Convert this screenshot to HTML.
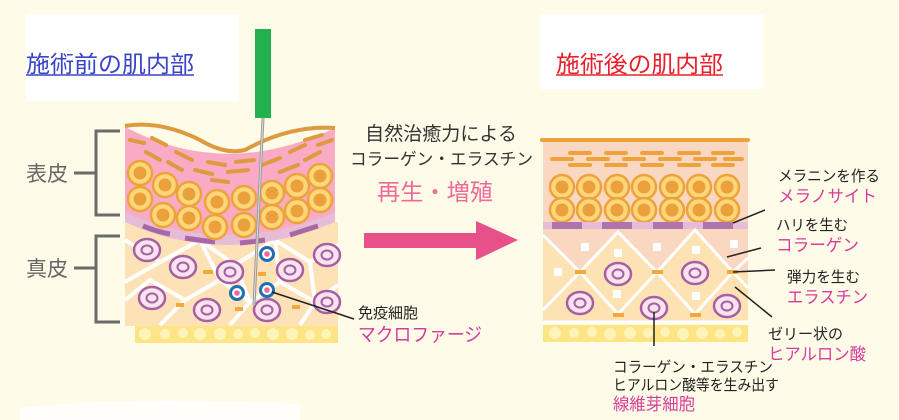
<!DOCTYPE html>
<html><head><meta charset="utf-8">
<style>
html,body{margin:0;padding:0;background:#fefbe8;}
svg{display:block}
text{font-family:"Liberation Sans","Noto Sans CJK JP",sans-serif;}
</style></head><body>
<svg width="899" height="420" viewBox="0 0 899 420" xmlns="http://www.w3.org/2000/svg">
<defs>
 <g id="ec"><circle r="12" fill="#fbd77a" stroke="#eea23c" stroke-width="2.5"/><circle r="6.5" fill="#eba03c"/></g>
 <g id="dc"><ellipse rx="13" ry="11" fill="#f9e4ee" stroke="#a65fa4" stroke-width="2.5"/><ellipse rx="5.5" ry="4.5" fill="none" stroke="#a65fa4" stroke-width="2"/></g>
 <g id="mc"><circle r="6.5" fill="#fff" stroke="#1f6fb5" stroke-width="3"/><circle r="2.8" fill="#e76aa4"/></g>
</defs>
<rect width="899" height="420" fill="#fefbe8"/>
<rect x="26" y="14" width="213" height="87" fill="#fff"/>
<rect x="540" y="14" width="223" height="75" fill="#fff"/>
<path d="M20 408 Q120 396 300 404 L300 420 L20 420Z" fill="#fff" opacity="0.8"/>
<text x="26" y="72" font-size="23" fill="#3a44c8" textLength="168" lengthAdjust="spacingAndGlyphs">施術前の肌内部</text>
<line x1="26" y1="75" x2="194" y2="75" stroke="#3a44c8" stroke-width="1.5"/>
<text x="556" y="72" font-size="23" fill="#e8202a" textLength="167" lengthAdjust="spacingAndGlyphs">施術後の肌内部</text>
<line x1="556" y1="75" x2="723" y2="75" stroke="#e8202a" stroke-width="1.5"/>

<g stroke="#6b6b6b" stroke-width="3" fill="none">
 <path d="M120 131 H96 V215 H120"/><line x1="74" y1="173" x2="96" y2="173"/>
 <path d="M120 236 H96 V322 H120"/><line x1="74" y1="268" x2="96" y2="268"/>
</g>
<text x="26" y="181" font-size="21" fill="#666">表皮</text>
<text x="26" y="276" font-size="21" fill="#666">真皮</text>

<rect x="125" y="222" width="213" height="104" fill="#fde2b8"/>
<g stroke="#fff" stroke-width="4" fill="none">
 <path d="M125 240 L160 262 L125 282"/><path d="M160 262 L200 240 L235 265 L275 240 L310 262 L338 245"/>
 <path d="M125 300 L150 280 L185 300 L160 325"/><path d="M185 300 L220 280 L250 302 L280 282 L315 302 L338 285"/>
 <path d="M200 240 L220 280"/><path d="M275 240 L280 282"/><path d="M235 265 L250 302 L230 325"/><path d="M310 262 L315 302 L300 325"/>
</g>
<path d="M125 127 Q225 180 335 128 L335 218 Q225 265 125 218Z" fill="#f9aac4"/>
<path d="M125 212 Q225 258 335 212 L335 222 Q225 268 125 222Z" fill="#e6bcd6"/>
<g stroke="#a967a8" stroke-width="5" fill="none">
 <path d="M143 226 Q158 232 170 234"/><path d="M185 238 Q198 240 215 242"/><path d="M240 243 Q252 242 265 240"/><path d="M290 235 Q305 230 318 226"/>
</g>
<path d="M125 126 Q160 120 200 140 Q225 155 245 150 Q290 125 335 128" fill="none" stroke="#dd9a3e" stroke-width="4"/>
<g stroke="#dd9a3e" stroke-width="4" stroke-linecap="round">
 <line x1="130" y1="140" x2="144" y2="143"/><line x1="152" y1="138" x2="166" y2="145"/><line x1="146" y1="152" x2="160" y2="160"/>
 <line x1="176" y1="152" x2="192" y2="160"/><line x1="168" y1="162" x2="182" y2="170"/><line x1="195" y1="170" x2="212" y2="174"/>
 <line x1="208" y1="162" x2="225" y2="165"/><line x1="228" y1="172" x2="248" y2="170"/><line x1="236" y1="162" x2="254" y2="160"/>
 <line x1="212" y1="180" x2="228" y2="182"/><line x1="262" y1="165" x2="280" y2="158"/><line x1="290" y1="152" x2="305" y2="145"/>
 <line x1="280" y1="172" x2="298" y2="165"/><line x1="305" y1="160" x2="320" y2="152"/><line x1="305" y1="140" x2="322" y2="135"/><line x1="318" y1="145" x2="332" y2="140"/>
</g>
<use href="#ec" x="140" y="173"/><use href="#ec" x="165" y="185"/><use href="#ec" x="189" y="194"/><use href="#ec" x="217" y="202"/>
<use href="#ec" x="244" y="198"/><use href="#ec" x="272" y="193"/><use href="#ec" x="297" y="186"/><use href="#ec" x="320" y="176"/>
<use href="#ec" x="140" y="199"/><use href="#ec" x="163" y="215"/><use href="#ec" x="189" y="218"/><use href="#ec" x="215" y="227"/>
<use href="#ec" x="244" y="225"/><use href="#ec" x="272" y="217"/><use href="#ec" x="297" y="211"/><use href="#ec" x="320" y="200"/>
<use href="#dc" x="147" y="250"/><use href="#dc" x="183" y="267"/><use href="#dc" x="230" y="272"/><use href="#dc" x="290" y="270"/><use href="#dc" x="327" y="255"/>
<use href="#dc" x="152" y="298"/><use href="#dc" x="207" y="310"/><use href="#dc" x="267" y="310"/><use href="#dc" x="327" y="302"/>
<g stroke="#f2a93a" stroke-width="4"><line x1="203" y1="272" x2="213" y2="272"/><line x1="258" y1="274" x2="266" y2="274"/><line x1="176" y1="305" x2="184" y2="305"/><line x1="235" y1="309" x2="243" y2="309"/><line x1="292" y1="307" x2="300" y2="307"/></g>
<rect x="135" y="326" width="203" height="17" fill="#fde485"/>
<g fill="#fef3b8"><circle cx="145" cy="334" r="6"/><circle cx="165" cy="334" r="5"/><circle cx="183" cy="333" r="5"/><circle cx="200" cy="334" r="6"/><circle cx="220" cy="334" r="6"/><circle cx="238" cy="334" r="5"/><circle cx="255" cy="333" r="5"/><circle cx="273" cy="334" r="6"/><circle cx="292" cy="334" r="6"/><circle cx="310" cy="335" r="5"/><circle cx="326" cy="334" r="5"/></g>
<line x1="263" y1="118" x2="254" y2="305" stroke="#9a9a9a" stroke-width="3"/>
<line x1="263" y1="118" x2="254" y2="305" stroke="#ddd" stroke-width="1"/>
<rect x="255" y="29" width="16" height="89" fill="#22b14c"/>
<use href="#mc" x="267" y="254"/><use href="#mc" x="237" y="293"/><use href="#mc" x="267" y="290"/>
<line x1="272" y1="292" x2="354" y2="319" stroke="#222" stroke-width="1.5"/>

<text x="365" y="140" font-size="19" fill="#333" textLength="152" lengthAdjust="spacingAndGlyphs">自然治癒力による</text>
<text x="350" y="165" font-size="17" fill="#333" textLength="183" lengthAdjust="spacingAndGlyphs">コラーゲン・エラスチン</text>
<text x="377" y="200" font-size="23" fill="#ee6a9a" textLength="116" lengthAdjust="spacingAndGlyphs">再生・増殖</text>
<path d="M364 233 H476 V221 L518 240 L476 260 V248 H364Z" fill="#e8508a"/>
<text x="358" y="318" font-size="15" fill="#222">免疫細胞</text>
<text x="358" y="341" font-size="19" fill="#d63c9a" textLength="124" lengthAdjust="spacingAndGlyphs">マクロファージ</text>

<rect x="543" y="140" width="205" height="85" fill="#f9d7c0"/>
<line x1="542" y1="140" x2="748" y2="140" stroke="#eea23c" stroke-width="4" stroke-linecap="round"/>
<g stroke="#eea23c" stroke-width="4" stroke-linecap="round">
 <line x1="570" y1="153" x2="590" y2="153"/><line x1="606" y1="153" x2="626" y2="153"/><line x1="642" y1="153" x2="662" y2="153"/><line x1="679" y1="153" x2="699" y2="153"/><line x1="713" y1="153" x2="733" y2="153"/>
 <line x1="552" y1="159" x2="572" y2="159"/><line x1="588" y1="159" x2="608" y2="159"/><line x1="624" y1="159" x2="644" y2="159"/><line x1="660" y1="159" x2="680" y2="159"/><line x1="695" y1="159" x2="715" y2="159"/><line x1="725" y1="159" x2="742" y2="159"/>
 <line x1="570" y1="165" x2="590" y2="165"/><line x1="606" y1="165" x2="626" y2="165"/><line x1="642" y1="165" x2="662" y2="165"/><line x1="679" y1="165" x2="699" y2="165"/><line x1="713" y1="165" x2="733" y2="165"/>
</g>
<use href="#ec" x="562" y="187"/><use href="#ec" x="589" y="187"/><use href="#ec" x="617" y="187"/><use href="#ec" x="644" y="187"/><use href="#ec" x="672" y="187"/><use href="#ec" x="699" y="187"/><use href="#ec" x="727" y="187"/>
<use href="#ec" x="562" y="210"/><use href="#ec" x="589" y="210"/><use href="#ec" x="617" y="210"/><use href="#ec" x="644" y="210"/><use href="#ec" x="672" y="210"/><use href="#ec" x="699" y="210"/><use href="#ec" x="727" y="210"/>
<rect x="543" y="222" width="205" height="7" fill="#e6bcd6"/>
<g fill="#b074ad"><rect x="552" y="222" width="30" height="7"/><rect x="602" y="222" width="30" height="7"/><rect x="653" y="222" width="30" height="7"/><rect x="703" y="222" width="30" height="7"/></g>
<rect x="543" y="229" width="205" height="94" fill="#fde2b4"/>
<path d="M543 229 H748 V272 L733 272 L695 230 L657 272 L618 232 L580 272 L543 235Z" fill="#f9d7c0"/>
<g stroke="#fff" stroke-width="3" fill="none">
 <path d="M543 235 L580 272 L618 232 L657 272 L695 230 L733 272 L748 258"/>
 <path d="M543 310 L580 272 L618 314 L657 272 L695 314 L733 272 L748 288"/>
 <line x1="543" y1="322" x2="748" y2="322"/>
</g>
<g fill="#fff"><rect x="581" y="243" width="8" height="8"/><rect x="614" y="249" width="8" height="8"/><rect x="653" y="243" width="8" height="8"/><rect x="692" y="246" width="8" height="8"/><rect x="730" y="240" width="8" height="8"/><rect x="554" y="268" width="8" height="8"/><rect x="613" y="290" width="8" height="8"/><rect x="692" y="292" width="8" height="8"/></g>
<use href="#dc" x="618" y="274"/><use href="#dc" x="695" y="273"/><use href="#dc" x="580" y="303"/><use href="#dc" x="654" y="308"/><use href="#dc" x="727" y="306"/>
<g stroke="#f2a93a" stroke-width="4"><line x1="575" y1="272" x2="586" y2="272"/><line x1="652" y1="272" x2="663" y2="272"/><line x1="727" y1="272" x2="738" y2="272"/><line x1="613" y1="315" x2="624" y2="315"/><line x1="690" y1="315" x2="701" y2="315"/></g>
<rect x="543" y="325" width="205" height="17" fill="#fde485"/>
<g fill="#fef3b8"><circle cx="555" cy="333" r="6"/><circle cx="574" cy="333" r="5"/><circle cx="592" cy="332" r="5"/><circle cx="610" cy="334" r="6"/><circle cx="630" cy="333" r="6"/><circle cx="648" cy="333" r="5"/><circle cx="665" cy="332" r="5"/><circle cx="683" cy="334" r="6"/><circle cx="702" cy="333" r="6"/><circle cx="720" cy="334" r="5"/><circle cx="737" cy="332" r="5"/></g>
<g stroke="#222" stroke-width="1.5">
 <line x1="733" y1="223" x2="765" y2="210"/><line x1="727" y1="257" x2="761" y2="248"/><line x1="733" y1="272" x2="775" y2="270"/><line x1="735" y1="287" x2="772" y2="317"/><line x1="654" y1="312" x2="654" y2="346"/>
</g>
<text x="778" y="181" font-size="15" fill="#222" textLength="102" lengthAdjust="spacingAndGlyphs">メラニンを作る</text>
<text x="778" y="202" font-size="17" fill="#d63c9a" textLength="99" lengthAdjust="spacingAndGlyphs">メラノサイト</text>
<text x="776" y="230" font-size="15" fill="#222" textLength="72" lengthAdjust="spacingAndGlyphs">ハリを生む</text>
<text x="776" y="251" font-size="17" fill="#d63c9a" textLength="83" lengthAdjust="spacingAndGlyphs">コラーゲン</text>
<text x="787" y="282" font-size="15" fill="#222" textLength="73" lengthAdjust="spacingAndGlyphs">弾力を生む</text>
<text x="787" y="303" font-size="17" fill="#d63c9a" textLength="81" lengthAdjust="spacingAndGlyphs">エラスチン</text>
<text x="768" y="339" font-size="15" fill="#222" textLength="75" lengthAdjust="spacingAndGlyphs">ゼリー状の</text>
<text x="768" y="360" font-size="17" fill="#d63c9a" textLength="98" lengthAdjust="spacingAndGlyphs">ヒアルロン酸</text>
<text x="613" y="372" font-size="15" fill="#222" textLength="160" lengthAdjust="spacingAndGlyphs">コラーゲン・エラスチン</text>
<text x="613" y="390" font-size="15" fill="#222" textLength="166" lengthAdjust="spacingAndGlyphs">ヒアルロン酸等を生み出す</text>
<text x="613" y="410" font-size="17" fill="#d63c9a" textLength="82" lengthAdjust="spacingAndGlyphs">線維芽細胞</text>
</svg>
</body></html>
